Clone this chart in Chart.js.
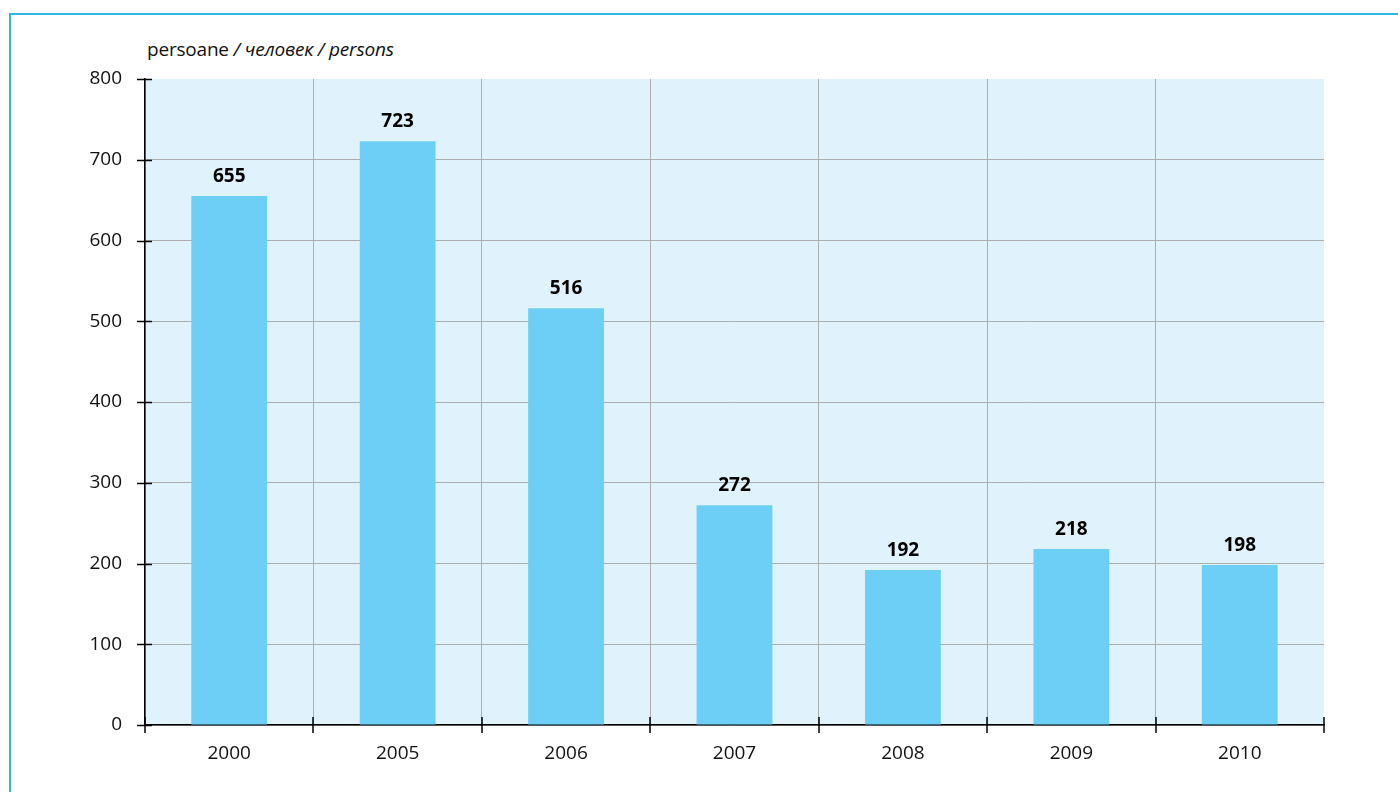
<!DOCTYPE html>
<html>
<head>
<meta charset="utf-8">
<script src="https://cdn.jsdelivr.net/npm/chart.js@4"></script>
<style>
  html, body { margin: 0; padding: 0; background: #fff; overflow: hidden; }
  #wrap { position: relative; width: 1398px; height: 792px; }
  #frame { position: absolute; left: 9px; top: 13px; width: 1400px; height: 800px; border: 2px solid #2cb4e6; box-sizing: border-box; }
  #unit { position: absolute; left: 147px; top: 36px; font: 19px "Open Sans", sans-serif; color: #111; white-space: nowrap; letter-spacing: -0.2px; }
  #unit i { font-style: italic; }
  canvas { position: absolute; left: 0; top: 0; }
</style>
</head>
<body>
<div id="wrap">
  <div id="frame"></div>
  <div id="unit">persoane <i>/ человек / persons</i></div>
  <canvas id="grafic" width="1398" height="792"></canvas>
</div>
<script>
const anii = ['2000', '2005', '2006', '2007', '2008', '2009', '2010'];
const persoane = [655, 723, 516, 272, 192, 218, 198];
const tickuriY = [0, 100, 200, 300, 400, 500, 600, 700, 800];

const fundal = {
    id: 'fundal',
    beforeDraw(chart) {
        const { ctx, chartArea } = chart;
        ctx.save();
        ctx.fillStyle = '#e0f2fb';
        ctx.fillRect(chartArea.left, chartArea.top, chartArea.right - chartArea.left, chartArea.bottom - chartArea.top);
        ctx.restore();
    }
};

// liniutele de pe axe (trec peste axa)
const liniute = {
    id: 'liniute',
    afterDraw(chart) {
        const { ctx, scales } = chart;
        const x = scales.x, y = scales.y;
        ctx.save();
        ctx.strokeStyle = '#000';
        ctx.lineWidth = 1.5;
        ctx.beginPath();
        tickuriY.forEach((v) => {
            const py = Math.round(y.getPixelForValue(v)) + 0.5;
            ctx.moveTo(x.left - 8, py);
            ctx.lineTo(x.left + 7, py);
        });
        for (let i = 0; i <= anii.length; i++) {
            const px = Math.round(x.left + (x.right - x.left) * i / anii.length);
            ctx.moveTo(px, y.bottom - 8);
            ctx.lineTo(px, y.bottom + 8);
        }
        ctx.stroke();
        ctx.restore();
    }
};

const etichete = {
    id: 'etichete',
    afterDatasetsDraw(chart) {
        const { ctx } = chart;
        const meta = chart.getDatasetMeta(0);
        ctx.save();
        ctx.font = 'bold 19px "Open Sans", sans-serif';
        ctx.fillStyle = '#000';
        ctx.textAlign = 'center';
        ctx.textBaseline = 'bottom';
        meta.data.forEach((bar, i) => {
            ctx.fillText(persoane[i], bar.x, bar.y - 10);
        });
        ctx.restore();
    }
};

new Chart(document.getElementById('grafic'), {
    type: 'bar',
    data: {
        labels: anii,
        datasets: [{
            data: persoane,
            backgroundColor: '#6dcff6',
            barPercentage: 0.45,
            categoryPercentage: 1
        }]
    },
    options: {
        responsive: false,
        animation: false,
        layout: { padding: { top: 79, right: 74, left: 0, bottom: 0 } },
        plugins: { legend: { display: false }, tooltip: { enabled: false } },
        scales: {
            x: {
                grid: {
                    // ultima linie (marginea din dreapta) nu se deseneaza
                    color: (c) => (c.type !== 'tick' ? 'rgba(0,0,0,0)' : '#adadad'),
                    lineWidth: 1, drawTicks: false, offset: true
                },
                border: { color: '#000', width: 1.5 },
                ticks: { color: '#111', font: { family: 'Open Sans', size: 19 }, padding: 17 },
                afterFit(scale) { scale.height = 67; }
            },
            y: {
                min: 0,
                max: 800,
                grid: {
                    color: (c) => (c.tick && c.tick.value === 800 ? 'rgba(0,0,0,0)' : '#adadad'),
                    lineWidth: 1, drawTicks: false
                },
                border: { color: '#000', width: 1.5 },
                ticks: { stepSize: 100, color: '#111', font: { family: 'Open Sans', size: 19 }, padding: 23 },
                afterFit(scale) { scale.width = 145; }
            }
        }
    },
    plugins: [fundal, etichete, liniute]
});
</script>
</body>
</html>
